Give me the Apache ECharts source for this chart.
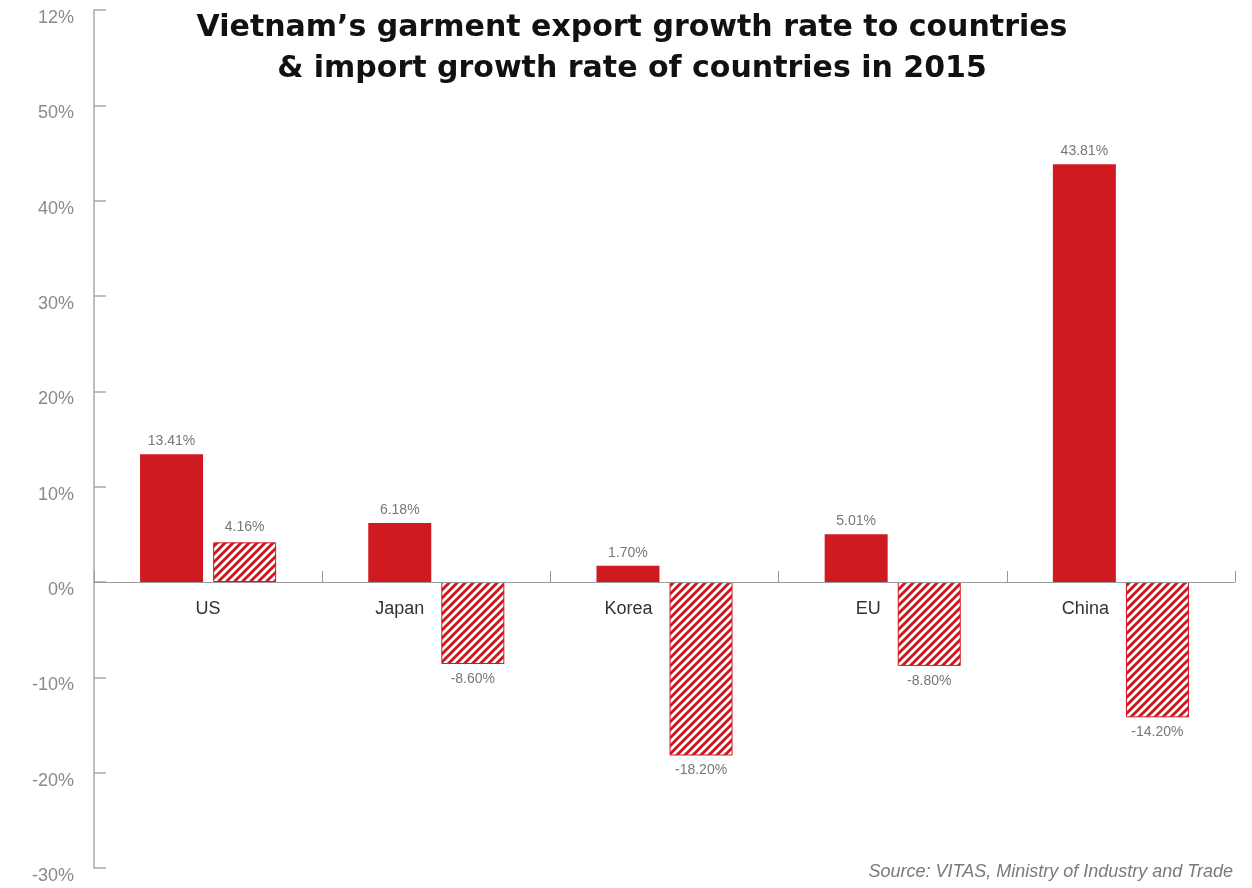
<!DOCTYPE html>
<html>
<head>
<meta charset="utf-8">
<script src="https://cdn.jsdelivr.net/npm/echarts@6/dist/echarts.min.js"></script>
<style>
  html, body { margin: 0; padding: 0; background: #fff; }
  #chart { width: 1252px; height: 888px; }
</style>
</head>
<body>
<div id="chart"></div>
<script>
// Growth rates in 2015, percent
const categories = ['US', 'Japan', 'Korea', 'EU', 'China'];
const exportGrowth = [13.41, 6.18, 1.70, 5.01, 43.81];
const importGrowth = [4.16, -8.60, -18.20, -8.80, -14.20];
// Value-axis labels from -30 up to the top tick
const yTickLabels = ['-30%', '-20%', '-10%', '0%', '10%', '20%', '30%', '40%', '50%', '12%'];

const RED = '#d01a21';
const Y_MIN = -30, Y_MAX = 60;
const GRID = { left: 94, right: 17, top: 10, bottom: 20 };
const CHART_H = 888;

// Diagonal stripe fill for the import bars
function stripePattern() {
  const s = 8;
  const c = document.createElement('canvas');
  c.width = s; c.height = s;
  const g = c.getContext('2d');
  g.fillStyle = '#fff';
  g.fillRect(0, 0, s, s);
  g.strokeStyle = RED;
  g.lineWidth = 3;
  g.beginPath();
  g.moveTo(-1, s + 1); g.lineTo(s + 1, -1);
  g.moveTo(-1, 1); g.lineTo(1, -1);
  g.moveTo(s - 1, s + 1); g.lineTo(s + 1, s - 1);
  g.stroke();
  return c;
}

const fmt = v => v.toFixed(2) + '%';
const labelFont = { fontFamily: 'Liberation Sans', fontSize: 14, color: '#777' };

function items(values) {
  return values.map(v => ({
    value: v,
    label: { position: v < 0 ? 'bottom' : 'top' }
  }));
}

// Category names sit left of a negative import bar so they stay readable
const categoryItems = categories.map((name, i) => (
  importGrowth[i] < 0
    ? { value: name, textStyle: { align: 'right', padding: [0, 12, 0, 0] } }
    : { value: name }
));

// Lift the category axis (line, ticks, labels) from the grid bottom to the zero line
const plotH = CHART_H - GRID.top - GRID.bottom;
const zeroOffset = -plotH * (0 - Y_MIN) / (Y_MAX - Y_MIN);

const chart = echarts.init(document.getElementById('chart'));
chart.setOption({
  animation: false,
  backgroundColor: '#fff',
  title: [{
    text: 'Vietnam\u2019s garment export growth rate to countries\n& import growth rate of countries in 2015',
    left: 627, top: 3, textAlign: 'center',
    textStyle: { fontFamily: 'DejaVu Sans', fontWeight: 'bold', fontSize: 30, lineHeight: 41, color: '#111' }
  }, {
    text: 'Source: VITAS, Ministry of Industry and Trade',
    right: 14, top: 858,
    textStyle: { fontFamily: 'Liberation Sans', fontStyle: 'italic', fontWeight: 'normal', fontSize: 18, color: '#7a7a7a' }
  }],
  grid: { ...GRID, containLabel: false, outerBoundsMode: 'none' },
  xAxis: {
    type: 'category',
    data: categoryItems,
    position: 'bottom',
    offset: zeroOffset,
    z: 5,
    axisLine: { onZero: false, lineStyle: { color: '#999', width: 1 } },
    axisTick: { show: true, inside: true, length: 11, lineStyle: { color: '#999' } },
    axisLabel: { margin: 18, fontFamily: 'Liberation Sans', fontSize: 18, color: '#333' },
    splitLine: { show: false }
  },
  yAxis: {
    type: 'value',
    min: Y_MIN, max: Y_MAX, interval: 10,
    axisLine: { show: true, lineStyle: { color: '#aaa', width: 1.5 } },
    axisTick: { show: true, inside: true, length: 12, lineStyle: { color: '#aaa', width: 1.5 } },
    axisLabel: {
      margin: 20,
      fontFamily: 'Liberation Sans', fontSize: 18, color: '#8a8a8a',
      verticalAlign: 'top', lineHeight: 16,
      formatter: v => yTickLabels[Math.round((v - Y_MIN) / 10)]
    },
    splitLine: { show: false }
  },
  series: [{
    name: 'Export growth',
    type: 'bar',
    barWidth: 63,
    barGap: '16%',
    data: items(exportGrowth),
    itemStyle: { color: RED },
    label: { show: true, distance: 6, formatter: p => fmt(p.value), ...labelFont }
  }, {
    name: 'Import growth',
    type: 'bar',
    barWidth: 63,
    data: items(importGrowth),
    itemStyle: {
      color: { image: stripePattern(), repeat: 'repeat' },
      borderColor: RED, borderWidth: 1
    },
    label: { show: true, distance: 8, formatter: p => fmt(p.value), ...labelFont }
  }]
});
</script>
</body>
</html>
